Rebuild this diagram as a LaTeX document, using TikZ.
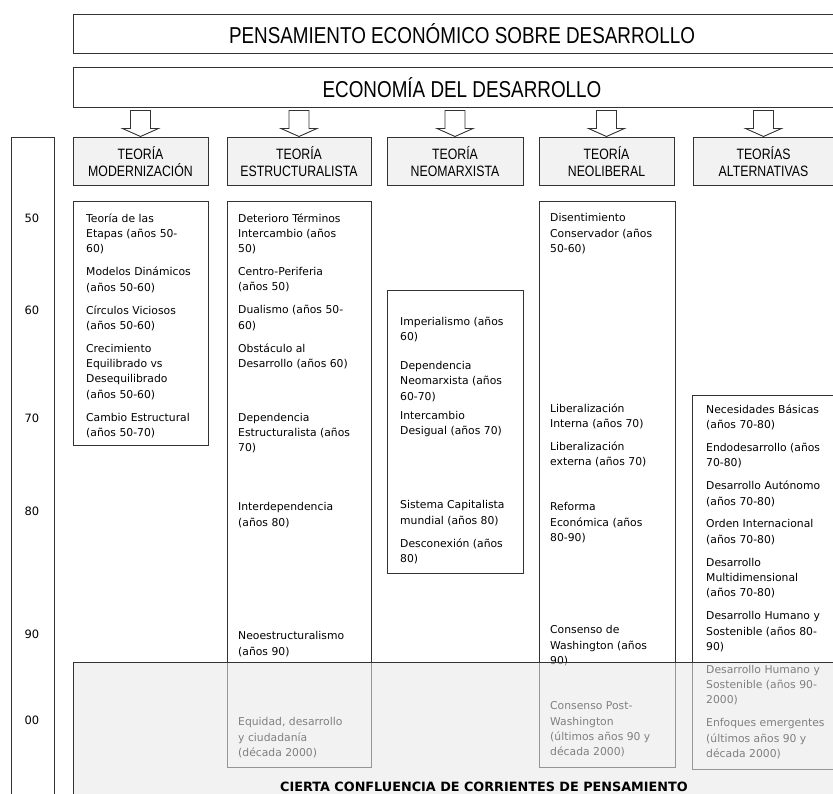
\documentclass[tikz,border=0pt]{standalone}
\usepackage{fontspec}
\setmainfont{DejaVu Sans}
\newfontfamily\narrowfont[FakeStretch=0.82]{Liberation Sans}
\usepackage{tikz}
\usetikzlibrary{calc,positioning}

\tikzset{
	frame/.style={draw=black!80, line width=1pt},
	titlebox/.style={frame, anchor=north west, minimum width=777, inner sep=0pt, font=\narrowfont\fontsize{23}{26}\selectfont},
	header/.style={frame, fill=black!5, minimum height=48, inner sep=0pt, align=center, font=\narrowfont\fontsize{15}{17}\selectfont},
	blockarrow/.style={draw=black!80, fill=white, line width=0.9pt, line join=miter},
	entry/.style={anchor=north west, inner sep=0pt, align=left, font=\fontsize{10.8}{15.3}\selectfont, execute at begin node={\rule{0pt}{9pt}}},
	year/.style={anchor=base, inner sep=0pt, font=\fontsize{11.5}{13}\selectfont}
}

\begin{document}
\begin{tikzpicture}[x=1pt,y=-1pt]
	\useasboundingbox (0,0) rectangle (833,794);
	\clip (0,0) rectangle (833,794);
	
	\node[titlebox, minimum height=39] (pens) at (73,14) {PENSAMIENTO ECONÓMICO SOBRE DESARROLLO};
	\node[titlebox, minimum height=40] (econ) at (73,67) {ECONOMÍA DEL DESARROLLO};
	
	\node[header, minimum width=135] (hmod) at (140.5,162) {TEORÍA\\MODERNIZACIÓN};
	\node[header, minimum width=144] (hest) at (299,162) {TEORÍA\\ESTRUCTURALISTA};
	\node[header, minimum width=136] (hneo) at (455,162) {TEORÍA\\NEOMARXISTA};
	\node[header, minimum width=135] (hlib) at (606.5,162) {TEORÍA\\NEOLIBERAL};
	\node[header, minimum width=141] (halt) at (763.5,162) {TEORÍAS\\ALTERNATIVAS};
	
	\foreach \h in {hmod,hest,hneo,hlib,halt}
		\draw[blockarrow] ($(\h.north)+(-10,-27)$) -- ++(20,0) -- ++(0,18) -- ++(8,0) -- ++(-18,8) -- ++(-18,-8) -- ++(8,0) -- cycle;
	
	\draw[frame] (11,138) rectangle (54,800);
	\draw[frame] (73,202) rectangle (208,445);
	\draw[frame] (227,202) rectangle (371,767);
	\draw[frame] (387,291) rectangle (523,573);
	\draw[frame] (539,202) rectangle (675,767);
	\draw[frame] (692,395) rectangle (833,769);
	
	\node[year] (y50) at (32,223) {50};
	\node[year] (y60) at (32,315) {60};
	\node[year] (y70) at (32,422) {70};
	\node[year] (y80) at (32,515) {80};
	\node[year] (y90) at (32,638) {90};
	\node[year] (y00) at (32,724) {00};
	
	\node[entry] (mod1) at (86,213.5) {Teoría de las\\Etapas (años 50-\\60)};
	\node[entry] (mod2) at (86,267.1) {Modelos Dinámicos\\(años 50-60)};
	\node[entry] (mod3) at (86,305.4) {Círculos Viciosos\\(años 50-60)};
	\node[entry] (mod4) at (86,343.7) {Crecimiento\\Equilibrado vs\\Desequilibrado\\(años 50-60)};
	\node[entry] (mod5) at (86,412.6) {Cambio Estructural\\(años 50-70)};
	
	\node[entry] (est1) at (238,213.5) {Deterioro Términos\\Intercambio (años\\50)};
	\node[entry] (est2) at (238,267.1) {Centro-Periferia\\(años 50)};
	\node[entry] (est3) at (238,305.4) {Dualismo (años 50-\\60)};
	\node[entry] (est4) at (238,343.7) {Obstáculo al\\Desarrollo (años 60)};
	\node[entry] (est5) at (238,412.6) {Dependencia\\Estructuralista (años\\70)};
	\node[entry] (est6) at (238,502.5) {Interdependencia\\(años 80)};
	\node[entry] (est7) at (238,631.5) {Neoestructuralismo\\(años 90)};
	\node[entry] (est8) at (238,717.5) {Equidad, desarrollo\\y ciudadanía\\(década 2000)};
	
	\node[entry] (neo1) at (400,317) {Imperialismo (años\\60)};
	\node[entry] (neo2) at (400,361) {Dependencia\\Neomarxista (años\\60-70)};
	\node[entry] (neo3) at (400,411) {Intercambio\\Desigual (años 70)};
	\node[entry] (neo4) at (400,500.5) {Sistema Capitalista\\mundial (años 80)};
	\node[entry] (neo5) at (400,538.8) {Desconexión (años\\80)};
	
	\node[entry] (lib1) at (550,213.5) {Disentimiento\\Conservador (años\\50-60)};
	\node[entry] (lib2) at (550,403.5) {Liberalización\\Interna (años 70)};
	\node[entry] (lib3) at (550,441.8) {Liberalización\\externa (años 70)};
	\node[entry] (lib4) at (550,502.5) {Reforma\\Económica (años\\80-90)};
	\node[entry] (lib5) at (550,625.5) {Consenso de\\Washington (años\\90)};
	\node[entry] (lib6) at (550,701.5) {Consenso Post-\\Washington\\(últimos años 90 y\\década 2000)};
	
	\node[entry] (alt1) at (706,404.5) {Necesidades Básicas\\(años 70-80)};
	\node[entry] (alt2) at (706,442.8) {Endodesarrollo (años\\70-80)};
	\node[entry] (alt3) at (706,481.1) {Desarrollo Autónomo\\(años 70-80)};
	\node[entry] (alt4) at (706,519.4) {Orden Internacional\\(años 70-80)};
	\node[entry] (alt5) at (706,557.7) {Desarrollo\\Multidimensional\\(años 70-80)};
	\node[entry] (alt6) at (706,611.3) {Desarrollo Humano y\\Sostenible (años 80-\\90)};
	\node[entry] (alt7) at (706,664.9) {Desarrollo Humano y\\Sostenible (años 90-\\2000)};
	\node[entry] (alt8) at (706,718.5) {Enfoques emergentes\\(últimos años 90 y\\década 2000)};
	
	\fill[black!9, fill opacity=0.55] (73,662) rectangle (850,800);
	\draw[frame] (850,662) -- (73,662) -- (73,800);
	\node[anchor=base west, inner sep=0pt, font=\bfseries\fontsize{12.8}{14}\selectfont] (confl) at (280,791.5) {CIERTA CONFLUENCIA DE CORRIENTES DE PENSAMIENTO};
\end{tikzpicture}
\end{document}
